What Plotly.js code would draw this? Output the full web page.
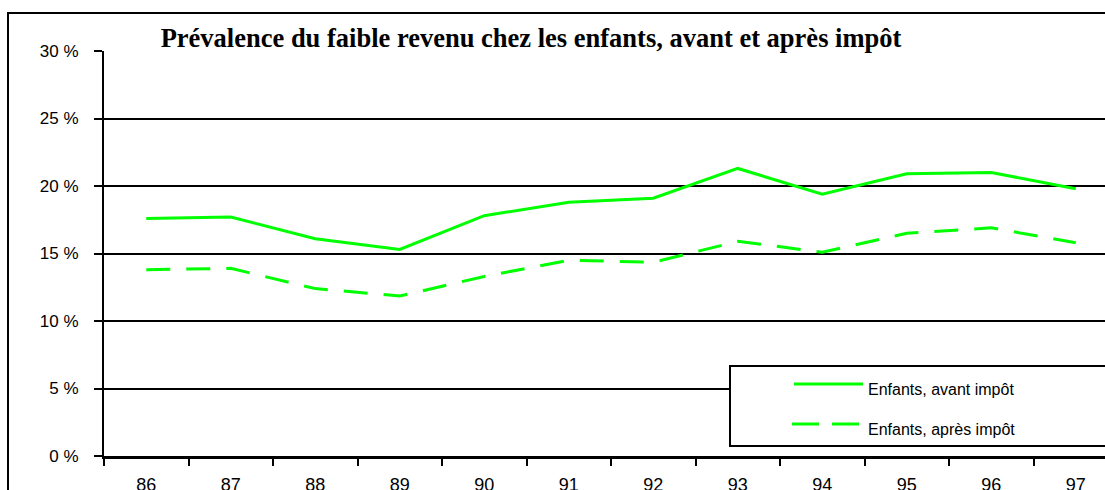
<!DOCTYPE html>
<html>
<head>
<meta charset="utf-8">
<script src="https://cdn.plot.ly/plotly-3.0.1.min.js"></script>
<style>html,body{margin:0;padding:0;background:#fff;}#chart{width:1105px;height:490px;}</style>
</head>
<body>
<div id="chart"></div>
<script>
const years = ["86","87","88","89","90","91","92","93","94","95","96","97"];
const avantImpot = [17.6, 17.7, 16.1, 15.3, 17.8, 18.8, 19.1, 21.3, 19.4, 20.9, 21.0, 19.8];
const apresImpot = [13.8, 13.9, 12.4, 11.85, 13.3, 14.5, 14.35, 15.9, 15.1, 16.5, 16.9, 15.8];
const seriesNames = ["Enfants, avant impôt", "Enfants, après impôt"];
const chartTitle = "Prévalence du faible revenu chez les enfants, avant et après impôt";
const yTicks = [0, 5, 10, 15, 20, 25, 30];

const green = "#00ff00";
const W = 1105, H = 490, L = 104, T = 51, B = 34;
const pw = W - L, ph = H - T - B;
const px = x => (x - L) / pw;
const py = y => (H - B - y) / ph;

const traces = [
  {x: years, y: avantImpot, name: seriesNames[0], type: "scatter", mode: "lines",
   line: {color: green, width: 3}, showlegend: false, hoverinfo: "skip"},
  {x: years, y: apresImpot, name: seriesNames[1], type: "scatter", mode: "lines",
   line: {color: green, width: 3, dash: "24px,16px"}, showlegend: false, hoverinfo: "skip"}
];

const layout = {
  width: W, height: H,
  margin: {l: L, r: 0, t: T, b: B, pad: 0},
  paper_bgcolor: "#fff", plot_bgcolor: "#fff",
  font: {family: "Liberation Sans, Arial, sans-serif", color: "#000"},
  title: {text: "<b>" + chartTitle + "</b>", x: 531 / W, xanchor: "center",
          y: 1 - 38 / H, yanchor: "middle",
          font: {family: "Liberation Serif, Times New Roman, serif", size: 26.5, color: "#000"}},
  xaxis: {type: "category", range: [-0.5, (W - L) / 84.5 - 0.5], tickson: "boundaries",
          ticks: "outside", ticklen: 7, tickwidth: 2, tickcolor: "#000",
          showline: true, linecolor: "#000", linewidth: 3, showgrid: false,
          tickfont: {size: 18, color: "#000"}, ticklabelstandoff: 10, fixedrange: true},
  yaxis: {range: [0, 30], tickvals: yTicks, ticktext: yTicks.map(v => v + " %"),
          ticks: "outside", ticklen: 8, tickwidth: 2, tickcolor: "#000",
          showline: true, linecolor: "#000", linewidth: 2,
          showgrid: true, gridcolor: "#000", gridwidth: 2, zeroline: false,
          tickfont: {size: 17, color: "#000"}, ticklabelstandoff: 12, fixedrange: true},
  shapes: [
    {type: "rect", xref: "paper", yref: "paper", x0: px(8), x1: 1.02, y0: -0.3, y1: py(13),
     line: {color: "#000", width: 2}, fillcolor: "rgba(0,0,0,0)", layer: "above"},
    {type: "rect", xref: "paper", yref: "paper", x0: px(730), x1: 1.02, y0: py(446), y1: py(366),
     line: {color: "#000", width: 2}, fillcolor: "#fff", layer: "above"},
    {type: "line", xref: "paper", yref: "paper", x0: px(794), x1: px(863), y0: py(384), y1: py(384),
     line: {color: green, width: 3}, layer: "above"},
    {type: "line", xref: "paper", yref: "paper", x0: px(792), x1: px(859), y0: py(424), y1: py(424),
     line: {color: green, width: 3, dash: "27px,13px"}, layer: "above"}
  ],
  annotations: [
    {text: seriesNames[0], xref: "paper", yref: "paper", x: px(866), y: py(389),
     xanchor: "left", yanchor: "middle", showarrow: false, font: {size: 16, color: "#000"}},
    {text: seriesNames[1], xref: "paper", yref: "paper", x: px(866), y: py(429),
     xanchor: "left", yanchor: "middle", showarrow: false, font: {size: 16, color: "#000"}}
  ]
};

Plotly.newPlot("chart", traces, layout, {displayModeBar: false, staticPlot: true});
</script>
</body>
</html>
